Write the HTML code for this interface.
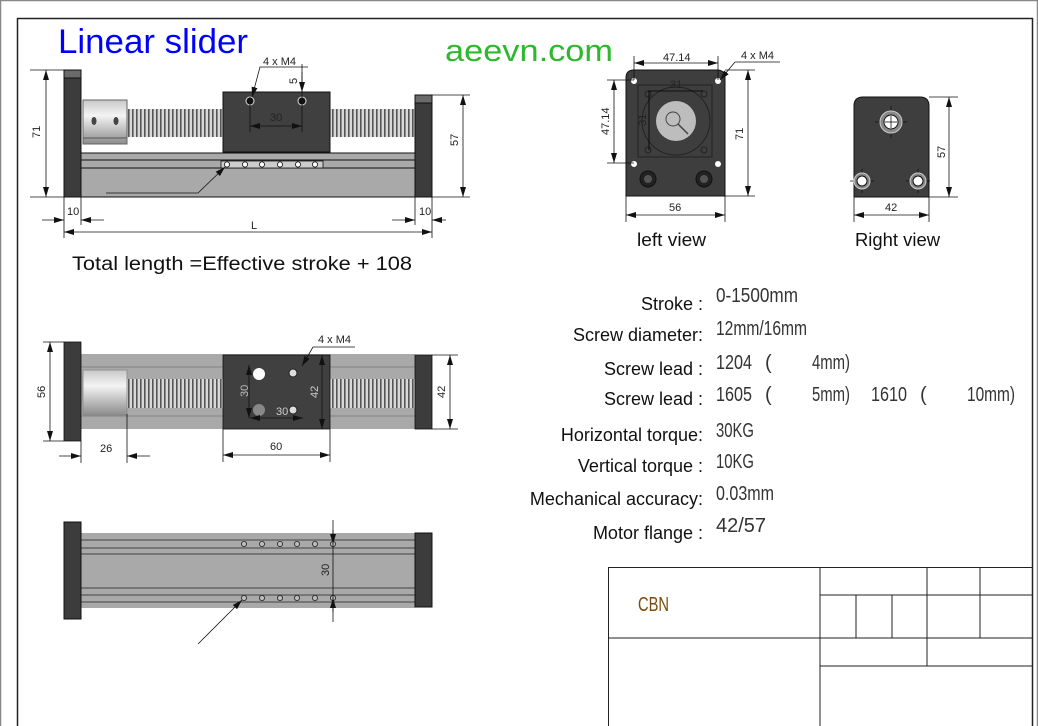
<!DOCTYPE html>
<html><head><meta charset="utf-8"><style>
html,body{margin:0;padding:0;background:#fff;}
svg{display:block;}
.d{font-family:"Liberation Sans Narrow","Liberation Sans",sans-serif;font-size:11px;fill:#222;}
.lab{font-family:"Liberation Sans","DejaVu Sans",sans-serif;font-size:18px;fill:#111;}
.val{font-family:"Liberation Sans Narrow","Liberation Sans",sans-serif;font-size:20px;fill:#333;}
</style></head><body>
<svg width="1038" height="726" viewBox="0 0 1038 726" xmlns="http://www.w3.org/2000/svg">
<defs>
<pattern id="thr" width="4" height="10" patternUnits="userSpaceOnUse">
<rect width="4" height="10" fill="#d8d8d8"/><rect x="0" width="1.6" height="10" fill="#555"/>
</pattern>
<linearGradient id="cyl" x1="0" y1="0" x2="0" y2="1">
<stop offset="0" stop-color="#c8c8c8"/><stop offset="0.35" stop-color="#f4f4f4"/><stop offset="1" stop-color="#8c8c8c"/>
</linearGradient>
<marker id="ar" viewBox="0 0 10 6" refX="10" refY="3" markerWidth="10" markerHeight="6" orient="auto-start-reverse" markerUnits="userSpaceOnUse"><path d="M0,0L10,3L0,6z" fill="#111"/></marker>
</defs>
<rect x="0" y="0" width="1038" height="726" fill="#fff"/>
<rect x="0.5" y="0.5" width="1037" height="740" fill="none" stroke="#888" stroke-width="1.5"/>
<rect x="17.5" y="18.5" width="1015" height="720" fill="none" stroke="#222" stroke-width="1.5"/>

<text x="58" y="53" font-family="Liberation Sans,sans-serif" font-size="34" fill="#0000ff" textLength="190" lengthAdjust="spacingAndGlyphs">Linear slider</text>
<text x="445" y="61" font-family="Liberation Sans,sans-serif" font-size="31" fill="#2db82d" textLength="168" lengthAdjust="spacingAndGlyphs">aeevn.com</text>

<!-- FRONT VIEW -->
<g stroke="#111" stroke-width="1">
<rect x="81" y="153" width="334" height="44" fill="#a9a9a9"/>
<line x1="81" y1="160" x2="415" y2="160"/><line x1="81" y1="168" x2="415" y2="168"/>
<rect x="127" y="109" width="96" height="28" fill="url(#thr)" stroke="none"/>
<rect x="330" y="109" width="85" height="28" fill="url(#thr)" stroke="none"/>
<rect x="83" y="100" width="44" height="44" fill="url(#cyl)" stroke="#666"/>
<rect x="64" y="70" width="17" height="127" fill="#3c3c3c"/>
<rect x="64" y="70" width="17" height="8" fill="#6a6a6a"/>
<rect x="415" y="95" width="17" height="102" fill="#3c3c3c"/>
<rect x="415" y="95" width="17" height="8" fill="#6a6a6a"/>
<rect x="223" y="92" width="107" height="60" fill="#404040"/>
</g>
<ellipse cx="94" cy="121" rx="2.5" ry="4" fill="#444"/><ellipse cx="116" cy="121" rx="2.5" ry="4" fill="#444"/>
<line x1="83" y1="138" x2="127" y2="138" stroke="#555"/>
<circle cx="250" cy="101" r="4" fill="#111" stroke="#ddd"/><circle cx="302" cy="101" r="4" fill="#111" stroke="#ddd"/>
<g fill="#fff" stroke="#111" stroke-width="0.8">
<rect x="221" y="161" width="102" height="7" fill="#ccc"/>
<circle cx="227" cy="164.5" r="2.6"/><circle cx="245" cy="164.5" r="2.6"/><circle cx="262" cy="164.5" r="2.6"/><circle cx="280" cy="164.5" r="2.6"/><circle cx="298" cy="164.5" r="2.6"/><circle cx="315" cy="164.5" r="2.6"/>
</g>
<g stroke="#111" stroke-width="0.8" fill="none">
<polyline points="106,193 198,193 225,167" marker-end="url(#ar)"/>
<line x1="30" y1="70" x2="64" y2="70"/><line x1="30" y1="197" x2="64" y2="197"/>
<line x1="46" y1="70" x2="46" y2="197" marker-start="url(#ar)" marker-end="url(#ar)"/>
<line x1="432" y1="95" x2="470" y2="95"/><line x1="432" y1="197" x2="470" y2="197"/>
<line x1="463" y1="95" x2="463" y2="197" marker-start="url(#ar)" marker-end="url(#ar)"/>
<line x1="64" y1="197" x2="64" y2="238"/><line x1="81" y1="197" x2="81" y2="225"/>
<line x1="415" y1="197" x2="415" y2="225"/><line x1="432" y1="197" x2="432" y2="238"/>
<line x1="42" y1="220" x2="64" y2="220" marker-end="url(#ar)"/><line x1="104" y1="220" x2="81" y2="220" marker-end="url(#ar)"/>
<line x1="392" y1="220" x2="415" y2="220" marker-end="url(#ar)"/><line x1="446" y1="220" x2="432" y2="220" marker-end="url(#ar)"/>
<line x1="64" y1="232" x2="432" y2="232" marker-start="url(#ar)" marker-end="url(#ar)"/>
<line x1="250" y1="97" x2="250" y2="132"/><line x1="302" y1="64" x2="302" y2="132"/>
<line x1="250" y1="126" x2="302" y2="126" marker-start="url(#ar)" marker-end="url(#ar)"/>
<polyline points="308,67 260,67 252,97" marker-end="url(#ar)"/>
<line x1="302" y1="72" x2="302" y2="92" marker-end="url(#ar)"/>
</g>
<text class="d" x="263" y="65">4 x  M4</text>
<text class="d" x="270" y="121">30</text>
<text class="d" x="67" y="215">10</text><text class="d" x="419" y="215">10</text>
<text class="d" x="251" y="229">L</text>
<text class="d" transform="translate(40,138) rotate(-90)">71</text>
<text class="d" transform="translate(458,146) rotate(-90)">57</text>
<text class="d" transform="translate(297,84) rotate(-90)">5</text>
<text x="72" y="270" font-family="Liberation Sans,sans-serif" font-size="19" fill="#111" textLength="340" lengthAdjust="spacingAndGlyphs">Total length =Effective stroke + 108</text>

<!-- LEFT VIEW -->
<path d="M626,196 V78 Q626,70 634,70 H717 Q725,70 725,78 V196 Z" fill="#3e3e3e" stroke="#111"/>
<rect x="638" y="85" width="74" height="72" fill="none" stroke="#222"/>
<circle cx="676" cy="121" r="34" fill="none" stroke="#222"/>
<circle cx="676" cy="121" r="20" fill="#bdbdbd"/>
<circle cx="673" cy="119" r="7" fill="none" stroke="#444"/>
<line x1="678" y1="124" x2="688" y2="134" stroke="#444" stroke-width="1.5"/>
<g fill="none" stroke="#222"><circle cx="648" cy="94" r="3"/><circle cx="704" cy="94" r="3"/><circle cx="648" cy="150" r="3"/><circle cx="704" cy="150" r="3"/></g>
<g fill="#fff"><circle cx="634" cy="81" r="3"/><circle cx="718" cy="81" r="3"/><circle cx="634" cy="164" r="3"/><circle cx="718" cy="164" r="3"/></g>
<circle cx="648" cy="179" r="8" fill="#222" stroke="#111"/><circle cx="648" cy="179" r="4" fill="#555"/>
<circle cx="704" cy="179" r="8" fill="#222" stroke="#111"/><circle cx="704" cy="179" r="4" fill="#555"/>
<g stroke="#111" stroke-width="0.8" fill="none">
<line x1="634" y1="56" x2="634" y2="80"/><line x1="718" y1="56" x2="718" y2="80"/>
<line x1="634" y1="63" x2="718" y2="63" marker-start="url(#ar)" marker-end="url(#ar)"/>
<polyline points="780,62 735,62 720,80" marker-end="url(#ar)"/>
<line x1="607" y1="80" x2="634" y2="80"/><line x1="607" y1="163" x2="634" y2="163"/>
<line x1="614" y1="80" x2="614" y2="163" marker-start="url(#ar)" marker-end="url(#ar)"/>
<line x1="725" y1="70" x2="755" y2="70"/><line x1="725" y1="196" x2="755" y2="196"/>
<line x1="748" y1="70" x2="748" y2="196" marker-start="url(#ar)" marker-end="url(#ar)"/>
<line x1="626" y1="196" x2="626" y2="222"/><line x1="725" y1="196" x2="725" y2="222"/>
<line x1="626" y1="215" x2="725" y2="215" marker-start="url(#ar)" marker-end="url(#ar)"/>
<line x1="648" y1="91" x2="703" y2="91" stroke="#000"/><line x1="649" y1="91" x2="649" y2="150" stroke="#000"/>
</g>
<text class="d" x="663" y="61">47.14</text>
<text class="d" x="741" y="59">4 x  M4</text>
<text class="d" x="670" y="88" fill="#000">31</text>
<text class="d" transform="translate(609,135) rotate(-90)">47.14</text>
<text class="d" transform="translate(646,126) rotate(-90)">31</text>
<text class="d" transform="translate(743,140) rotate(-90)">71</text>
<text class="d" x="669" y="211">56</text>
<text x="637" y="246" font-family="Liberation Sans,sans-serif" font-size="18" fill="#111" textLength="69" lengthAdjust="spacingAndGlyphs">left view</text>

<!-- RIGHT VIEW -->
<path d="M854,197 V106 Q854,97 863,97 H920 Q929,97 929,106 V197 Z" fill="#3e3e3e" stroke="#111"/>
<g stroke="#111" stroke-width="0.8">
<line x1="891" y1="106" x2="891" y2="138"/><line x1="875" y1="122" x2="907" y2="122"/>
<line x1="862" y1="169" x2="862" y2="193"/><line x1="850" y1="181" x2="874" y2="181"/>
<line x1="918" y1="169" x2="918" y2="193"/><line x1="906" y1="181" x2="930" y2="181"/>
</g>
<circle cx="891" cy="122" r="11" fill="#888" stroke="#ccc"/><circle cx="891" cy="122" r="7" fill="#fff" stroke="#111"/>
<circle cx="862" cy="181" r="8" fill="#888" stroke="#ccc"/><circle cx="862" cy="181" r="5" fill="#fff" stroke="#111"/>
<circle cx="918" cy="181" r="8" fill="#888" stroke="#ccc"/><circle cx="918" cy="181" r="5" fill="#fff" stroke="#111"/>
<g stroke="#111" stroke-width="0.8">
<line x1="885" y1="122" x2="897" y2="122"/><line x1="891" y1="116" x2="891" y2="128"/>
<line x1="929" y1="97" x2="958" y2="97"/><line x1="929" y1="197" x2="958" y2="197"/>
<line x1="949" y1="97" x2="949" y2="197" marker-start="url(#ar)" marker-end="url(#ar)"/>
<line x1="854" y1="197" x2="854" y2="222"/><line x1="929" y1="197" x2="929" y2="222"/>
<line x1="854" y1="215" x2="929" y2="215" marker-start="url(#ar)" marker-end="url(#ar)"/>
</g>
<text class="d" transform="translate(945,158) rotate(-90)">57</text>
<text class="d" x="885" y="211">42</text>
<text x="855" y="246" font-family="Liberation Sans,sans-serif" font-size="18" fill="#111" textLength="85" lengthAdjust="spacingAndGlyphs">Right view</text>

<!-- TOP VIEW (middle) -->
<g stroke="#111" stroke-width="0.8">
<rect x="81" y="354" width="334" height="75" fill="#a9a9a9" stroke="none"/>
<line x1="81" y1="367" x2="415" y2="367" stroke="#777"/><line x1="81" y1="416" x2="415" y2="416" stroke="#777"/>
<rect x="127" y="379" width="96" height="29" fill="url(#thr)" stroke="none"/>
<rect x="330" y="379" width="85" height="29" fill="url(#thr)" stroke="none"/>
<rect x="83" y="370" width="44" height="45" fill="url(#cyl)" stroke="#888"/>
<rect x="64" y="342" width="17" height="99" fill="#3c3c3c"/>
<rect x="415" y="355" width="17" height="74" fill="#3c3c3c"/>
<rect x="223" y="355" width="107" height="74" fill="#404040"/>
</g>
<circle cx="259" cy="374" r="6" fill="#fff"/><circle cx="259" cy="410" r="6" fill="#888"/>
<circle cx="293" cy="373" r="4" fill="#ddd" stroke="#222"/><circle cx="293" cy="410" r="4" fill="#ddd" stroke="#222"/>
<g stroke="#111" stroke-width="0.8" fill="none">
<line x1="249" y1="365" x2="249" y2="418" marker-start="url(#ar)" marker-end="url(#ar)"/>
<line x1="250" y1="418" x2="303" y2="418" marker-start="url(#ar)" marker-end="url(#ar)"/>
<line x1="322" y1="355" x2="322" y2="429" marker-start="url(#ar)" marker-end="url(#ar)"/>
<polyline points="355,347 313,347 302,366" marker-end="url(#ar)"/>
<line x1="43" y1="342" x2="64" y2="342"/><line x1="43" y1="441" x2="64" y2="441"/>
<line x1="50" y1="342" x2="50" y2="441" marker-start="url(#ar)" marker-end="url(#ar)"/>
<line x1="432" y1="355" x2="458" y2="355"/><line x1="432" y1="429" x2="458" y2="429"/>
<line x1="450" y1="355" x2="450" y2="429" marker-start="url(#ar)" marker-end="url(#ar)"/>
<line x1="81" y1="441" x2="81" y2="463"/><line x1="127" y1="414" x2="127" y2="463"/>
<line x1="59" y1="456" x2="81" y2="456" marker-end="url(#ar)"/><line x1="150" y1="456" x2="127" y2="456" marker-end="url(#ar)"/>
<line x1="223" y1="429" x2="223" y2="462"/><line x1="330" y1="429" x2="330" y2="462"/>
<line x1="223" y1="455" x2="330" y2="455" marker-start="url(#ar)" marker-end="url(#ar)"/>
</g>
<text class="d" style="fill:#bbb" transform="translate(248,397) rotate(-90)">30</text>
<text class="d" style="fill:#ccc" x="276" y="415">30</text>
<text class="d" style="fill:#ccc" transform="translate(318,398) rotate(-90)">42</text>
<text class="d" x="318" y="343">4 x  M4</text>
<text class="d" transform="translate(45,398) rotate(-90)">56</text>
<text class="d" transform="translate(445,398) rotate(-90)">42</text>
<text class="d" x="100" y="452">26</text>
<text class="d" x="270" y="450">60</text>

<!-- BOTTOM VIEW -->
<rect x="81" y="533" width="334" height="75" fill="#a9a9a9"/>
<g stroke="#222" stroke-width="0.8">
<line x1="81" y1="540" x2="415" y2="540"/><line x1="81" y1="548" x2="415" y2="548"/><line x1="81" y1="554" x2="415" y2="554"/>
<line x1="81" y1="588" x2="415" y2="588"/><line x1="81" y1="595" x2="415" y2="595"/><line x1="81" y1="602" x2="415" y2="602"/>
</g>
<rect x="64" y="522" width="17" height="97" fill="#3c3c3c" stroke="#111"/>
<rect x="415" y="533" width="17" height="74" fill="#3c3c3c" stroke="#111"/>
<g fill="#bbb" stroke="#222" stroke-width="0.8">
<circle cx="244" cy="544" r="2.6"/><circle cx="262" cy="544" r="2.6"/><circle cx="280" cy="544" r="2.6"/><circle cx="297" cy="544" r="2.6"/><circle cx="315" cy="544" r="2.6"/><circle cx="333" cy="544" r="2.6"/>
<circle cx="244" cy="598" r="2.6"/><circle cx="262" cy="598" r="2.6"/><circle cx="280" cy="598" r="2.6"/><circle cx="297" cy="598" r="2.6"/><circle cx="315" cy="598" r="2.6"/><circle cx="333" cy="598" r="2.6"/>
</g>
<g stroke="#111" stroke-width="0.8" fill="none">
<line x1="333" y1="520" x2="333" y2="622"/>
<line x1="333" y1="530" x2="333" y2="544" marker-end="url(#ar)"/><line x1="333" y1="612" x2="333" y2="598" marker-end="url(#ar)"/>
<line x1="198" y1="644" x2="242" y2="600" marker-end="url(#ar)"/>
</g>
<text class="d" transform="translate(329,576) rotate(-90)">30</text>

<!-- SPECS -->
<g class="lab" text-anchor="end">
<text x="703" y="310">Stroke   :</text>
<text x="703" y="341">Screw diameter:</text>
<text x="703" y="375">Screw lead   :</text>
<text x="703" y="405">Screw lead   :</text>
<text x="703" y="441">Horizontal torque:</text>
<text x="703" y="472">Vertical torque :</text>
<text x="703" y="505">Mechanical accuracy:</text>
<text x="703" y="539">Motor flange :</text>
</g>
<g class="val">
<text x="716" y="302" textLength="82" lengthAdjust="spacingAndGlyphs">0-1500mm</text>
<text x="716" y="335" textLength="91" lengthAdjust="spacingAndGlyphs">12mm/16mm</text>
<text x="716" y="369" textLength="36" lengthAdjust="spacingAndGlyphs">1204</text><text x="765" y="369">(</text><text x="812" y="369" textLength="38" lengthAdjust="spacingAndGlyphs">4mm)</text>
<text x="716" y="401" textLength="36" lengthAdjust="spacingAndGlyphs">1605</text><text x="765" y="401">(</text><text x="812" y="401" textLength="38" lengthAdjust="spacingAndGlyphs">5mm)</text>
<text x="871" y="401" textLength="36" lengthAdjust="spacingAndGlyphs">1610</text><text x="920" y="401">(</text><text x="967" y="401" textLength="48" lengthAdjust="spacingAndGlyphs">10mm)</text>
<text x="716" y="437" textLength="38" lengthAdjust="spacingAndGlyphs">30KG</text>
<text x="716" y="468" textLength="38" lengthAdjust="spacingAndGlyphs">10KG</text>
<text x="716" y="500" textLength="58" lengthAdjust="spacingAndGlyphs">0.03mm</text>
<text x="716" y="532" textLength="50" lengthAdjust="spacingAndGlyphs">42/57</text>
</g>

<!-- TITLE BLOCK -->
<g stroke="#222" stroke-width="1" fill="none">
<rect x="608.5" y="567.5" width="424" height="170"/>
<line x1="608" y1="638" x2="1032" y2="638"/>
<line x1="820" y1="567" x2="820" y2="726"/>
<line x1="820" y1="595" x2="1032" y2="595"/>
<line x1="927" y1="567" x2="927" y2="638"/><line x1="980" y1="567" x2="980" y2="638"/>
<line x1="856" y1="595" x2="856" y2="638"/><line x1="892" y1="595" x2="892" y2="638"/>
<line x1="927" y1="638" x2="927" y2="666"/>
<line x1="820" y1="666" x2="1032" y2="666"/>
</g>
<text x="638" y="611" font-family="Liberation Sans Narrow,Liberation Sans,sans-serif" font-size="20" fill="#7a4a10" textLength="31" lengthAdjust="spacingAndGlyphs">CBN</text>
</svg>
</body></html>
